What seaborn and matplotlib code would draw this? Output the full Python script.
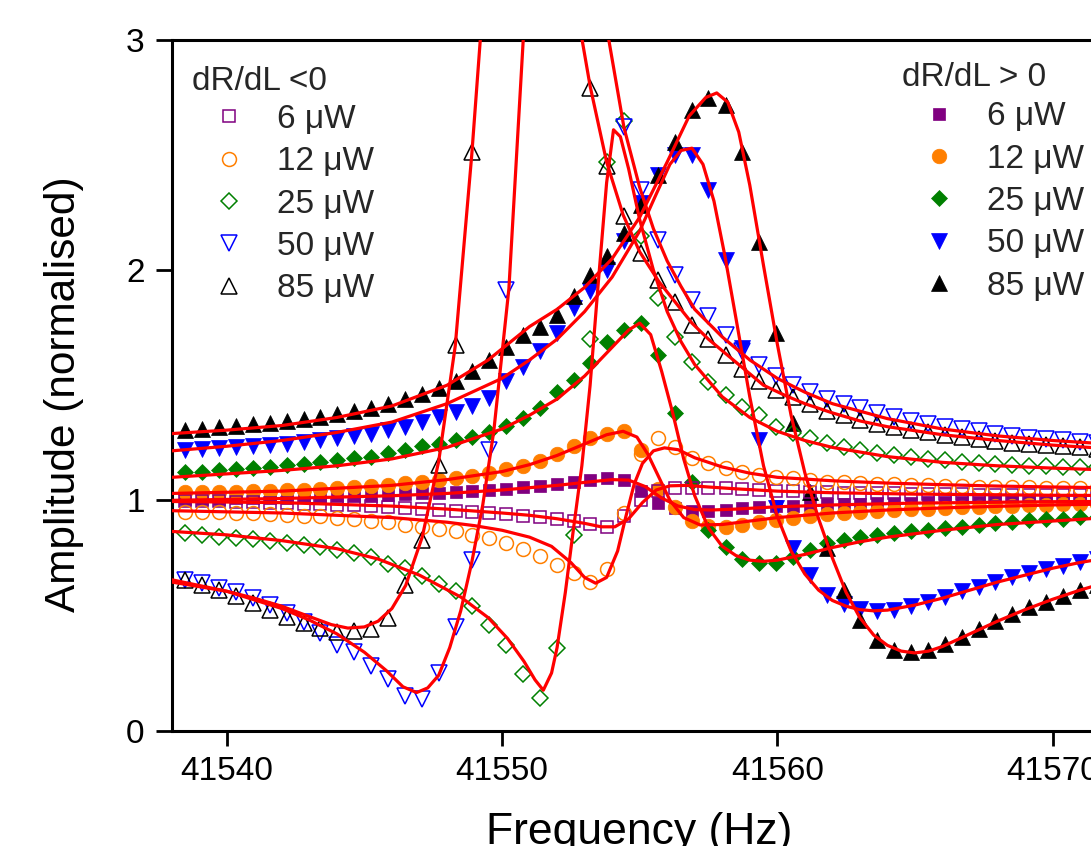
import matplotlib
matplotlib.use("Agg")
import matplotlib.pyplot as plt
from matplotlib.lines import Line2D
import seaborn as sns

# ---------------- data ----------------
freq = [41538.50, 41539.11, 41539.73, 41540.34, 41540.95, 41541.57, 41542.18, 41542.79, 41543.40, 41544.02,
        41544.63, 41545.24, 41545.86, 41546.47, 41547.08, 41547.70, 41548.31, 41548.92, 41549.53, 41550.15,
        41550.76, 41551.37, 41551.99, 41552.60, 41553.21, 41553.83, 41554.44, 41555.05, 41555.66, 41556.28,
        41556.89, 41557.50, 41558.12, 41558.73, 41559.34, 41559.96, 41560.57, 41561.18, 41561.79, 41562.41,
        41563.02, 41563.63, 41564.25, 41564.86, 41565.47, 41566.09, 41566.70, 41567.31, 41567.92, 41568.54,
        41569.15, 41569.76, 41570.38, 41570.99, 41571.60]

powers = ["6 \u03bcW", "12 \u03bcW", "25 \u03bcW", "50 \u03bcW", "85 \u03bcW"]

# dR/dL < 0 (open symbols)
neg_6 = [0.998, 0.997, 0.995, 0.994, 0.992, 0.990, 0.988, 0.986, 0.984, 0.981,
         0.978, 0.975, 0.972, 0.968, 0.964, 0.960, 0.955, 0.950, 0.945, 0.940,
         0.934, 0.928, 0.920, 0.910, 0.898, 0.882, 0.930, 1.000, 1.040, 1.052,
         1.055, 1.055, 1.052, 1.048, 1.045, 1.042, 1.040, 1.038, 1.036, 1.034,
         1.032, 1.031, 1.030, 1.029, 1.028, 1.027, 1.026, 1.025, 1.025, 1.024,
         1.023, 1.023, 1.022, 1.022, 1.021]
neg_12 = [0.951, 0.950, 0.948, 0.945, 0.943, 0.940, 0.937, 0.933, 0.930, 0.925,
          0.920, 0.912, 0.905, 0.895, 0.885, 0.875, 0.865, 0.850, 0.835, 0.815,
          0.790, 0.760, 0.720, 0.685, 0.645, 0.700, 0.945, 1.200, 1.270, 1.233,
          1.183, 1.161, 1.139, 1.124, 1.110, 1.103, 1.096, 1.088, 1.081, 1.078,
          1.074, 1.072, 1.070, 1.068, 1.066, 1.064, 1.062, 1.060, 1.058, 1.057,
          1.056, 1.055, 1.054, 1.053, 1.052]
neg_25 = [0.857, 0.850, 0.840, 0.835, 0.830, 0.822, 0.815, 0.808, 0.796, 0.785,
          0.770, 0.755, 0.725, 0.705, 0.670, 0.635, 0.605, 0.540, 0.460, 0.372,
          0.245, 0.140, 0.357, 0.849, 1.700, 2.470, 2.650, 2.150, 1.880, 1.710,
          1.603, 1.516, 1.458, 1.407, 1.371, 1.320, 1.291, 1.270, 1.248, 1.233,
          1.219, 1.204, 1.197, 1.190, 1.180, 1.175, 1.168, 1.163, 1.160, 1.155,
          1.150, 1.148, 1.147, 1.146, 1.145]
neg_50 = [0.655, 0.640, 0.620, 0.600, 0.575, 0.545, 0.510, 0.470, 0.425, 0.370,
          0.340, 0.280, 0.225, 0.150, 0.135, 0.250, 0.450, 0.740, 1.220, 1.915,
          3.300, 4.000, 4.500, 4.400, 3.800, 3.100, 2.620, 2.350, 2.133, 1.980,
          1.870, 1.800, 1.720, 1.650, 1.590, 1.540, 1.500, 1.470, 1.440, 1.420,
          1.400, 1.380, 1.360, 1.345, 1.330, 1.320, 1.310, 1.300, 1.290, 1.280,
          1.270, 1.265, 1.260, 1.255, 1.250]
neg_85 = [0.654, 0.633, 0.611, 0.585, 0.555, 0.525, 0.495, 0.468, 0.445, 0.430,
          0.432, 0.440, 0.490, 0.630, 0.828, 1.154, 1.676, 2.515, 3.600, 4.300,
          4.700, 4.800, 4.500, 3.600, 2.790, 2.451, 2.234, 2.075, 1.959, 1.860,
          1.763, 1.700, 1.630, 1.570, 1.520, 1.480, 1.450, 1.420, 1.390, 1.370,
          1.350, 1.330, 1.320, 1.305, 1.295, 1.285, 1.275, 1.265, 1.258, 1.250,
          1.245, 1.240, 1.235, 1.230, 1.225]

# dR/dL > 0 (filled symbols)
pos_6 = [1.005, 1.006, 1.007, 1.008, 1.009, 1.010, 1.012, 1.013, 1.015, 1.017,
         1.019, 1.021, 1.024, 1.027, 1.030, 1.033, 1.036, 1.040, 1.045, 1.050,
         1.056, 1.062, 1.070, 1.078, 1.088, 1.095, 1.090, 1.040, 0.990, 0.965,
         0.955, 0.955, 0.960, 0.965, 0.970, 0.974, 0.977, 0.980, 0.982, 0.984,
         0.986, 0.988, 0.989, 0.990, 0.991, 0.992, 0.993, 0.994, 0.995, 0.995,
         0.996, 0.996, 0.997, 0.997, 0.998]
pos_12 = [1.035, 1.036, 1.037, 1.038, 1.040, 1.042, 1.044, 1.047, 1.050, 1.054,
          1.058, 1.063, 1.068, 1.074, 1.080, 1.088, 1.097, 1.107, 1.120, 1.135,
          1.150, 1.170, 1.200, 1.238, 1.270, 1.290, 1.300, 1.220, 1.050, 0.972,
          0.910, 0.888, 0.886, 0.893, 0.905, 0.914, 0.925, 0.933, 0.940, 0.945,
          0.950, 0.955, 0.958, 0.961, 0.964, 0.967, 0.970, 0.972, 0.975, 0.977,
          0.979, 0.981, 0.983, 0.985, 0.986]
pos_25 = [1.125, 1.125, 1.133, 1.138, 1.140, 1.147, 1.154, 1.156, 1.166, 1.176,
          1.183, 1.190, 1.205, 1.220, 1.234, 1.245, 1.263, 1.275, 1.299, 1.321,
          1.357, 1.400, 1.470, 1.524, 1.596, 1.690, 1.741, 1.770, 1.633, 1.378,
          1.081, 0.870, 0.798, 0.747, 0.726, 0.726, 0.754, 0.783, 0.813, 0.827,
          0.841, 0.849, 0.856, 0.865, 0.870, 0.880, 0.885, 0.895, 0.900, 0.907,
          0.914, 0.918, 0.921, 0.926, 0.929]
pos_50 = [1.220, 1.222, 1.226, 1.230, 1.235, 1.240, 1.246, 1.252, 1.260, 1.270,
          1.280, 1.290, 1.305, 1.320, 1.340, 1.360, 1.385, 1.410, 1.445, 1.520,
          1.580, 1.650, 1.727, 1.836, 1.908, 2.000, 2.125, 2.290, 2.415, 2.502,
          2.502, 2.350, 2.046, 1.660, 1.262, 0.965, 0.791, 0.675, 0.588, 0.550,
          0.530, 0.520, 0.525, 0.540, 0.560, 0.580, 0.605, 0.625, 0.645, 0.665,
          0.685, 0.700, 0.715, 0.730, 0.745]
pos_85 = [1.307, 1.312, 1.318, 1.324, 1.330, 1.336, 1.343, 1.352, 1.362, 1.374,
          1.387, 1.402, 1.420, 1.440, 1.462, 1.488, 1.520, 1.560, 1.610, 1.665,
          1.720, 1.754, 1.806, 1.886, 1.980, 2.060, 2.162, 2.283, 2.413, 2.558,
          2.696, 2.746, 2.717, 2.514, 2.123, 1.725, 1.335, 1.037, 0.791, 0.610,
          0.479, 0.392, 0.350, 0.341, 0.350, 0.375, 0.405, 0.440, 0.475, 0.505,
          0.535, 0.560, 0.585, 0.610, 0.630]

# fitted curves (red)
fit_neg_6_f = [41538.0, 41542.0, 41546.0, 41548.0, 41550.0, 41551.0, 41552.0, 41553.0, 41553.6, 41554.1,
               41554.6, 41555.1, 41555.6, 41556.1, 41556.7, 41557.5, 41558.5, 41560.0, 41562.0, 41565.0,
               41570.0, 41575.0]
fit_neg_6_a = [0.995, 0.990, 0.975, 0.962, 0.945, 0.935, 0.920, 0.900, 0.885, 0.885,
               0.920, 0.990, 1.045, 1.063, 1.065, 1.058, 1.050, 1.040, 1.033, 1.027,
               1.022, 1.020]
fit_neg_12_f = [41538.0, 41542.0, 41546.0, 41548.0, 41549.0, 41550.0, 41551.0, 41551.8, 41552.5, 41553.0,
                41553.4, 41553.8, 41554.2, 41554.5, 41554.8, 41555.1, 41555.5, 41555.9, 41556.4, 41557.0,
                41558.0, 41559.0, 41560.0, 41562.0, 41564.0, 41566.0, 41568.0, 41570.0, 41575.0]
fit_neg_12_a = [0.955, 0.945, 0.925, 0.905, 0.890, 0.870, 0.840, 0.800, 0.730, 0.665,
                0.640, 0.665, 0.780, 0.930, 1.070, 1.160, 1.215, 1.228, 1.220, 1.185,
                1.145, 1.118, 1.100, 1.085, 1.075, 1.068, 1.062, 1.058, 1.050]
fit_neg_25_f = [41538.0, 41540.0, 41542.0, 41544.0, 41545.5, 41547.0, 41548.5, 41549.5, 41550.2, 41550.8,
                41551.2, 41551.5, 41551.8, 41552.0, 41552.3, 41552.6, 41552.9, 41553.2, 41553.5, 41553.8,
                41554.05, 41554.3, 41554.6, 41555.0, 41555.5, 41556.0, 41556.5, 41557.0, 41558.0, 41559.0,
                41560.0, 41561.0, 41562.0, 41564.0, 41566.0, 41568.0, 41570.0, 41575.0]
fit_neg_25_a = [0.865, 0.850, 0.825, 0.790, 0.745, 0.675, 0.580, 0.490, 0.400, 0.300,
                0.220, 0.175, 0.250, 0.360, 0.600, 0.880, 1.150, 1.500, 1.950, 2.380,
                2.610, 2.580, 2.440, 2.220, 2.000, 1.820, 1.690, 1.590, 1.450, 1.360,
                1.300, 1.260, 1.230, 1.190, 1.165, 1.150, 1.140, 1.120]
fit_neg_50_f = [41538.0, 41540.0, 41542.0, 41543.0, 41544.0, 41545.0, 41545.8, 41546.4, 41546.9, 41547.3,
                41547.7, 41548.1, 41548.5, 41548.9, 41549.3, 41549.7, 41550.25, 41550.77, 41551.3, 41552.3,
                41553.3, 41553.88, 41554.43, 41555.0, 41555.5, 41556.0, 41556.5, 41557.0, 41558.0, 41559.0,
                41560.0, 41561.0, 41562.0, 41564.0, 41566.0, 41568.0, 41570.0, 41572.0, 41575.0]
fit_neg_50_a = [0.645, 0.605, 0.530, 0.480, 0.420, 0.340, 0.260, 0.190, 0.165, 0.185,
                0.240, 0.360, 0.520, 0.730, 0.980, 1.300, 1.920, 3.000, 3.900, 4.600,
                3.800, 3.000, 2.620, 2.360, 2.180, 2.040, 1.930, 1.830, 1.710, 1.610,
                1.530, 1.470, 1.420, 1.355, 1.310, 1.280, 1.260, 1.245, 1.230]
fit_neg_85_f = [41538.0, 41539.0, 41540.0, 41541.0, 41542.0, 41543.0, 41543.8, 41544.4, 41545.0, 41545.5,
                41546.0, 41546.5, 41547.1, 41547.7, 41548.3, 41548.9, 41549.21, 41549.6, 41550.5, 41551.5,
                41552.3, 41552.91, 41553.2, 41553.8, 41554.4, 41555.0, 41555.7, 41556.3, 41556.9, 41557.5,
                41558.1, 41558.7, 41559.5, 41560.3, 41561.0, 41562.0, 41563.0, 41564.0, 41566.0, 41568.0,
                41570.0, 41572.0, 41575.0]
fit_neg_85_a = [0.655, 0.630, 0.605, 0.575, 0.540, 0.495, 0.460, 0.445, 0.450, 0.475,
                0.530, 0.630, 0.840, 1.170, 1.670, 2.500, 3.000, 3.700, 4.600, 4.900,
                4.000, 3.000, 2.800, 2.470, 2.240, 2.080, 1.950, 1.860, 1.770, 1.700,
                1.640, 1.580, 1.500, 1.455, 1.420, 1.380, 1.345, 1.320, 1.285, 1.260,
                1.240, 1.225, 1.210]

fit_pos_6_f = [41538.0, 41542.0, 41546.0, 41548.0, 41550.0, 41552.0, 41553.0, 41554.0, 41554.6, 41555.2,
               41555.8, 41556.4, 41557.0, 41557.6, 41558.5, 41560.0, 41562.0, 41565.0, 41570.0, 41575.0]
fit_pos_6_a = [1.000, 1.008, 1.020, 1.030, 1.045, 1.065, 1.078, 1.090, 1.088, 1.060,
               1.010, 0.975, 0.960, 0.958, 0.962, 0.972, 0.980, 0.988, 0.994, 0.997]
fit_pos_12_f = [41538.0, 41542.0, 41546.0, 41548.0, 41550.0, 41551.0, 41552.0, 41553.0, 41553.8, 41554.4,
                41554.9, 41555.3, 41555.7, 41556.1, 41556.6, 41557.2, 41558.0, 41559.0, 41560.0, 41562.0,
                41564.0, 41566.0, 41568.0, 41570.0, 41575.0]
fit_pos_12_a = [1.030, 1.040, 1.065, 1.090, 1.125, 1.155, 1.195, 1.245, 1.285, 1.300,
                1.275, 1.200, 1.100, 1.000, 0.925, 0.893, 0.895, 0.910, 0.925, 0.945,
                0.958, 0.967, 0.974, 0.980, 0.990]
fit_pos_25_f = [41538.0, 41540.0, 41542.0, 41544.0, 41546.0, 41548.0, 41550.0, 41551.0, 41552.0, 41553.0,
                41554.0, 41554.6, 41555.0, 41555.4, 41555.8, 41556.2, 41556.6, 41557.0, 41557.5, 41558.0,
                41558.5, 41559.0, 41559.5, 41560.0, 41561.0, 41562.0, 41563.0, 41564.0, 41566.0, 41568.0,
                41570.0, 41572.0, 41575.0]
fit_pos_25_a = [1.100, 1.115, 1.130, 1.150, 1.180, 1.230, 1.310, 1.370, 1.440, 1.540,
                1.665, 1.740, 1.770, 1.720, 1.560, 1.380, 1.180, 1.020, 0.880, 0.800,
                0.760, 0.740, 0.735, 0.740, 0.765, 0.795, 0.820, 0.840, 0.870, 0.895,
                0.910, 0.925, 0.940]
fit_pos_50_f = [41538.0, 41540.0, 41542.0, 41544.0, 41546.0, 41548.0, 41550.0, 41551.0, 41552.0, 41553.0,
                41554.0, 41555.0, 41555.6, 41556.1, 41556.5, 41556.9, 41557.3, 41557.7, 41558.1, 41558.5,
                41559.0, 41559.5, 41560.0, 41560.5, 41561.0, 41561.5, 41562.0, 41562.5, 41563.0, 41563.5,
                41564.0, 41565.0, 41566.0, 41567.0, 41568.0, 41569.0, 41570.0, 41571.0, 41572.0, 41575.0]
fit_pos_50_a = [1.215, 1.235, 1.260, 1.295, 1.340, 1.420, 1.530, 1.610, 1.700, 1.820,
                1.970, 2.170, 2.330, 2.460, 2.520, 2.530, 2.460, 2.300, 2.060, 1.790,
                1.450, 1.150, 0.930, 0.780, 0.680, 0.610, 0.565, 0.540, 0.525, 0.520,
                0.523, 0.545, 0.575, 0.610, 0.645, 0.675, 0.705, 0.730, 0.750, 0.800]
fit_pos_85_f = [41538.0, 41540.0, 41542.0, 41544.0, 41546.0, 41548.0, 41549.5, 41551.0, 41552.0, 41553.0,
                41554.0, 41555.0, 41556.0, 41556.8, 41557.4, 41557.8, 41558.2, 41558.6, 41559.0, 41559.5,
                41560.0, 41560.5, 41561.0, 41561.5, 41562.0, 41562.5, 41563.0, 41563.5, 41564.0, 41564.5,
                41565.0, 41565.5, 41566.0, 41567.0, 41568.0, 41569.0, 41570.0, 41571.0, 41572.0, 41575.0]
fit_pos_85_a = [1.290, 1.305, 1.325, 1.360, 1.410, 1.500, 1.610, 1.755, 1.830, 1.925,
                2.050, 2.230, 2.470, 2.670, 2.750, 2.770, 2.730, 2.600, 2.370, 2.020,
                1.680, 1.370, 1.120, 0.920, 0.750, 0.600, 0.490, 0.415, 0.370, 0.345,
                0.337, 0.345, 0.365, 0.420, 0.475, 0.525, 0.570, 0.610, 0.645, 0.720]

x_ticks = [41540, 41550, 41560, 41570]
x_tick_labels = ["41540", "41550", "41560", "41570"]
y_ticks = [0, 1, 2, 3]
y_tick_labels = ["0", "1", "2", "3"]

# ---------------- styling ----------------
colors = ["#800080", "#FF7F00", "#008000", "#0000FF", "#000000"]
markers = ["s", "o", "D", "v", "^"]
msizes_open = [8.0, 10.0, 8.5, 11.0, 11.0]
msizes_fill = [9.0, 10.5, 8.5, 11.0, 11.0]

sns.set_theme(style="ticks")
plt.rcParams["font.family"] = ["Liberation Sans", "DejaVu Sans"]

fig = plt.figure(figsize=(10.91, 8.46), dpi=100)
# axes: left spine at x=171.7 px, y from 730.5 px (0) to 40 px (3); right spine just off the picture
ax = fig.add_axes([0.15738, 0.13652, 0.85784, 0.81619])

neg_sets = [neg_6, neg_12, neg_25, neg_50, neg_85]
pos_sets = [pos_6, pos_12, pos_25, pos_50, pos_85]
neg_fits = [(fit_neg_6_f, fit_neg_6_a), (fit_neg_12_f, fit_neg_12_a), (fit_neg_25_f, fit_neg_25_a),
            (fit_neg_50_f, fit_neg_50_a), (fit_neg_85_f, fit_neg_85_a)]
pos_fits = [(fit_pos_6_f, fit_pos_6_a), (fit_pos_12_f, fit_pos_12_a), (fit_pos_25_f, fit_pos_25_a),
            (fit_pos_50_f, fit_pos_50_a), (fit_pos_85_f, fit_pos_85_a)]

for vals, c, m, ms in zip(pos_sets, colors, markers, msizes_fill):
    sns.lineplot(x=freq, y=vals, ax=ax, estimator=None, sort=False, legend=False,
                 linestyle="", marker=m, markersize=ms, color=c,
                 markerfacecolor=c, markeredgecolor=c, markeredgewidth=0.5, zorder=2)
for vals, c, m, ms in zip(neg_sets, colors, markers, msizes_open):
    sns.lineplot(x=freq, y=vals, ax=ax, estimator=None, sort=False, legend=False,
                 linestyle="", marker=m, markersize=ms, color=c,
                 markerfacecolor="none", markeredgecolor=c, markeredgewidth=1.1, zorder=2)
for fx, fy in neg_fits + pos_fits:
    sns.lineplot(x=fx, y=fy, ax=ax, estimator=None, sort=False, legend=False,
                 color="#FF0000", linewidth=2.3, zorder=3)

ax.set_xlim(41538.0, 41572.0)
ax.set_ylim(0, 3)
ax.set_xticks(x_ticks)
ax.set_xticklabels(x_tick_labels)
ax.set_yticks(y_ticks)
ax.set_yticklabels(y_tick_labels)
ax.tick_params(axis="x", direction="out", length=10.5, width=2.0, labelsize=24, pad=8, colors="black")
ax.tick_params(axis="y", direction="out", length=11.5, width=2.0, labelsize=24, pad=8, colors="black")
for sp in ax.spines.values():
    sp.set_linewidth(2.2)
    sp.set_color("black")
ax.set_xlabel("Frequency (Hz)", fontsize=32, labelpad=18, color="black")
ax.set_ylabel("Amplitude (normalised)", fontsize=30.5, labelpad=30, color="black")
ax.yaxis.label.set_y(0.487)

# legends
h_open = [Line2D([], [], linestyle="", marker=m, markersize=ms, markerfacecolor="none",
                 markeredgecolor=c, markeredgewidth=1.1) for c, m, ms in zip(colors, markers, msizes_open)]
h_fill = [Line2D([], [], linestyle="", marker=m, markersize=ms, markerfacecolor=c,
                 markeredgecolor=c, markeredgewidth=0.5) for c, m, ms in zip(colors, markers, msizes_fill)]

leg_kw = dict(frameon=False, fontsize=24, title_fontsize=24, alignment="left", borderpad=0,
              borderaxespad=0, handlelength=2.24, handletextpad=0.31, labelspacing=0.34,
              loc="upper left", bbox_transform=fig.transFigure)
leg1 = ax.legend(h_open, powers, title="dR/dL <0", bbox_to_anchor=(192 / 1091, 1 - 66 / 846), **leg_kw)
leg1._legend_box.sep = 5
ax.add_artist(leg1)
leg2 = ax.legend(h_fill, powers, title="dR/dL > 0", bbox_to_anchor=(902 / 1091, 1 - 62 / 846), **leg_kw)
leg2._legend_box.sep = 6

fig.savefig("out.png", dpi=100)
